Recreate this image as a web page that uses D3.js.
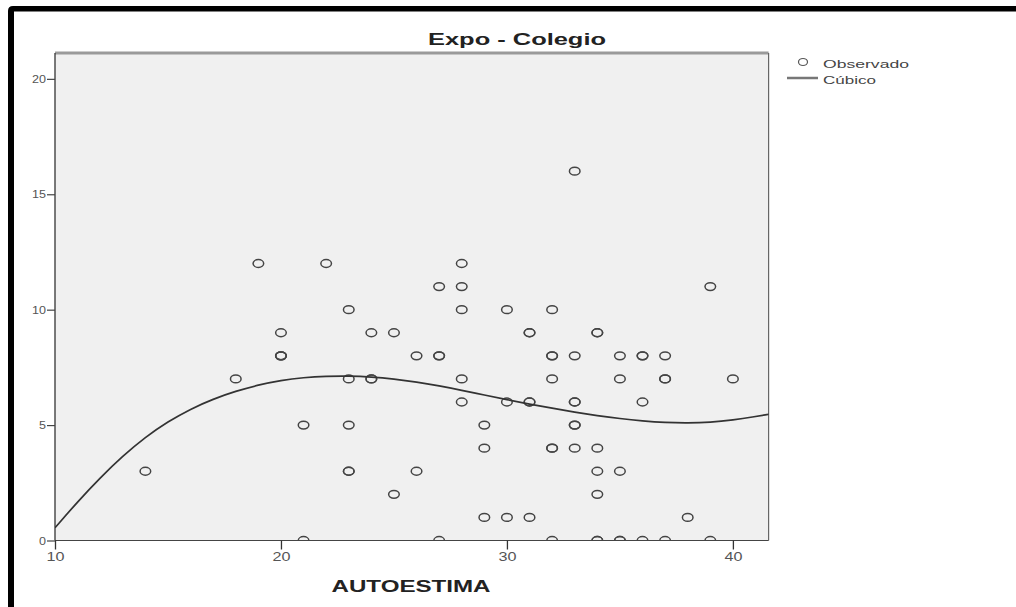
<!DOCTYPE html>
<html><head><meta charset="utf-8">
<script src="https://cdn.jsdelivr.net/npm/d3@7"></script>
<style>body{margin:0;background:#fff} svg{display:block}</style>
</head><body><svg id="c" width="1016" height="607"></svg>
<script>
// Observed points (duplicates appear as bolder circles)
const autoestima = [14,18,19,20,20,20,20,21,21,22,23,23,23,23,23,24,24,24,25,25,26,26,27,27,27,27,28,28,28,28,28,29,29,29,30,30,30,31,31,31,31,31,32,32,32,32,32,32,32,33,33,33,33,33,33,33,34,34,34,34,34,34,34,35,35,35,35,35,36,36,36,36,37,37,37,37,38,39,39,40];
const expo       = [ 3, 7,12, 9, 8, 8, 8, 5, 0,12,10, 7, 5, 3, 3, 9, 7, 7, 9, 2, 8, 3,11, 8, 8, 0,12,11,10, 7, 6, 5, 4, 1,10, 6, 1, 9, 9, 6, 6, 1,10, 8, 8, 7, 4, 4, 0,16, 8, 6, 6, 5, 5, 4, 9, 9, 4, 3, 2, 0, 0, 8, 7, 3, 0, 0, 8, 8, 6, 0, 8, 7, 7, 0, 1,11, 0, 7];
// Cubic fit curve
const curveX = [10,11,12,13,14,15,16,17,18,19,20,21,22,23,24,25,26,27,28,29,30,31,32,33,34,35,36,37,38,39,40,41,41.6];
const curveY = [0.55,1.68,2.72,3.66,4.48,5.15,5.7,6.13,6.47,6.74,6.94,7.06,7.12,7.13,7.09,7.0,6.87,6.7,6.51,6.3,6.1,5.91,5.73,5.56,5.41,5.28,5.18,5.11,5.09,5.12,5.22,5.37,5.47];
const xTicks = [10,20,30,40];
const yTicks = [0,5,10,15,20];
const title = "Expo - Colegio";
const xTitle = "AUTOESTIMA";
const legendLabels = ["Observado","Cúbico"];

const svg = d3.select('#c');
const FONT = "Arial, 'Liberation Sans', sans-serif";
const L=55, R=768.6, T=53, B=540.5;
const x = d3.scaleLinear().domain([10,41.58]).range([L,R]);
const y = d3.scaleLinear().domain([0,21.12]).range([B,T]);

svg.append('rect').attr('width',1016).attr('height',607).attr('fill','#fff');
// black frame bars
svg.append('path').attr('d','M8,607V11Q8,6 13,6H1016V11.5H14V607Z').attr('fill','#000');

// plot background
svg.append('rect').attr('x',L).attr('y',T).attr('width',R-L).attr('height',B-T).attr('fill','#f0f0f0');
svg.append('defs').append('clipPath').attr('id','clip').append('rect')
  .attr('x',L).attr('y',T).attr('width',R-L).attr('height',B-T);

// frame lines
svg.append('line').attr('x1',L).attr('x2',R).attr('y1',T).attr('y2',T).attr('stroke','#9a9a9a').attr('stroke-width',3);
svg.append('line').attr('x1',R).attr('x2',R).attr('y1',T).attr('y2',B).attr('stroke','#666').attr('stroke-width',1.2);

const g = svg.append('g').attr('clip-path','url(#clip)');
g.selectAll('ellipse').data(autoestima.map((v,i)=>[v,expo[i]])).join('ellipse')
  .attr('cx',d=>x(d[0])).attr('cy',d=>y(d[1])).attr('rx',5.3).attr('ry',3.9)
  .attr('fill','none').attr('stroke','#444').attr('stroke-width',1.5);

const line = d3.line().x(d=>x(d[0])).y(d=>y(d[1])).curve(d3.curveBasis);
g.append('path').datum(curveX.map((v,i)=>[v,curveY[i]])).attr('d',line)
  .attr('fill','none').attr('stroke','#333').attr('stroke-width',1.7);

// axes
const xAxis = svg.append('g').attr('transform',`translate(0,${B})`)
  .call(d3.axisBottom(x).tickValues(xTicks).tickSize(9).tickSizeOuter(0));
xAxis.select('.domain').attr('stroke','#444').attr('stroke-width',1.2).attr('d',`M${L},0H${R}`);
xAxis.selectAll('.tick line').attr('stroke','#333').attr('stroke-width',1.3);
xAxis.selectAll('.tick text').attr('font-family',FONT).attr('font-size',12).attr('fill','#555')
  .attr('y',12).attr('dy','0.71em').attr('textLength',18).attr('lengthAdjust','spacingAndGlyphs');

const yAxis = svg.append('g').attr('transform',`translate(${L},0)`)
  .call(d3.axisLeft(y).tickValues(yTicks).tickSize(8).tickSizeOuter(0));
yAxis.select('.domain').attr('stroke','#333').attr('stroke-width',1.3).attr('d',`M0,${T}V${B}`);
yAxis.selectAll('.tick line').attr('stroke','#444').attr('stroke-width',1.2);
yAxis.selectAll('.tick text').attr('font-family',FONT).attr('font-size',11).attr('fill','#555')
  .attr('x',-9).attr('textLength',d=>String(d).length*7).attr('lengthAdjust','spacingAndGlyphs');

// titles
svg.append('text').attr('x',517).attr('y',45).attr('text-anchor','middle')
  .attr('font-family',FONT).attr('font-weight','bold').attr('font-size',16).attr('fill','#222')
  .attr('textLength',178).attr('lengthAdjust','spacingAndGlyphs').text(title);
svg.append('text').attr('x',411).attr('y',592).attr('text-anchor','middle')
  .attr('font-family',FONT).attr('font-weight','bold').attr('font-size',17).attr('fill','#222')
  .attr('textLength',159).attr('lengthAdjust','spacingAndGlyphs').text(xTitle);

// legend
svg.append('ellipse').attr('cx',803).attr('cy',62).attr('rx',4.5).attr('ry',3.5)
  .attr('fill','none').attr('stroke','#555').attr('stroke-width',1.2);
svg.append('line').attr('x1',787).attr('x2',818).attr('y1',78).attr('y2',78).attr('stroke','#777').attr('stroke-width',2.5);
svg.selectAll('.leg').data(legendLabels).join('text').attr('class','leg')
  .attr('x',823).attr('y',(d,i)=>64+i*16).attr('dy','0.35em')
  .attr('font-family',FONT).attr('font-size',11.5).attr('fill','#444')
  .attr('textLength',(d,i)=>i===0?86:53).attr('lengthAdjust','spacingAndGlyphs').text(d=>d);
</script></body></html>
